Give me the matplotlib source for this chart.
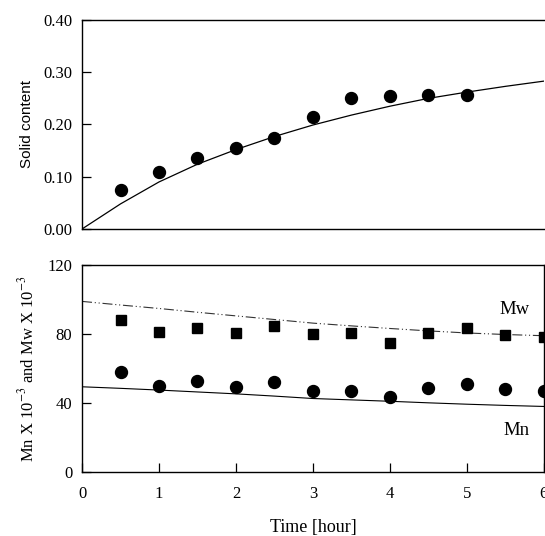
import matplotlib
matplotlib.use("Agg")
import matplotlib.pyplot as plt

# top panel: solid content vs time
t_pts = [0.5, 1.0, 1.5, 2.0, 2.5, 3.0, 3.5, 4.0, 4.5, 5.0]
solid_pts = [0.075, 0.109, 0.135, 0.155, 0.174, 0.215, 0.251, 0.255, 0.257, 0.256]

t_line = [0, 0.5, 1.0, 1.5, 2.0, 2.5, 3.0, 3.5, 4.0, 4.5, 5.0, 5.5, 6.0]
solid_line = [0, 0.048, 0.090, 0.124, 0.152, 0.177, 0.199, 0.218, 0.235, 0.250, 0.262, 0.273, 0.283]

# bottom panel: Mn, Mw (x 10^-3)
t_mol = [0.5, 1.0, 1.5, 2.0, 2.5, 3.0, 3.5, 4.0, 4.5, 5.0, 5.5, 6.0]
mw_pts = [88.3, 80.9, 83.5, 80.4, 84.4, 80.0, 80.6, 75.0, 80.6, 83.5, 79.2, 78.4]
mn_pts = [58.1, 49.8, 52.9, 49.1, 52.3, 47.1, 47.1, 43.6, 48.9, 51.0, 48.3, 47.1]

mw_line = [98.9, 96.8, 94.8, 92.6, 90.5, 88.4, 86.3, 84.7, 83.2, 81.8, 80.6, 79.7, 79.0]
mn_line = [49.4, 48.5, 47.5, 46.4, 45.3, 44.0, 42.6, 41.8, 41.0, 40.1, 39.3, 38.6, 38.0]

top_yticks = [0.0, 0.1, 0.2, 0.3, 0.4]
top_ylabels = ["0.00", "0.10", "0.20", "0.30", "0.40"]
bot_yticks = [0, 40, 80, 120]
xticks = [0, 1, 2, 3, 4, 5, 6]

SERIF = "Liberation Serif"
plt.rcParams["font.family"] = SERIF
plt.rcParams["mathtext.fontset"] = "stix"


def style_axis(ax):
    for sp in ax.spines.values():
        sp.set_linewidth(1.0)
    ax.tick_params(direction="in", length=6.5, width=0.9, labelsize=12)
    ax.tick_params(axis="y", pad=7)
    ax.tick_params(axis="x", pad=10)


def main():
    fig = plt.figure(figsize=(5.45, 5.36), dpi=100)
    ax1 = fig.add_axes([0.1505, 0.5728, 0.8475, 0.3899])
    ax2 = fig.add_axes([0.1505, 0.1194, 0.8475, 0.3862])

    # top
    ax1.plot(t_line, solid_line, color="black", lw=0.9)
    ax1.plot(t_pts, solid_pts, "o", color="black", ms=8.6)
    ax1.set_xlim(0, 6)
    ax1.set_ylim(0, 0.4)
    ax1.set_yticks(top_yticks)
    ax1.set_yticklabels(top_ylabels)
    ax1.set_xticks([])
    ax1.spines.right.set_visible(False)
    style_axis(ax1)
    ax1.set_ylabel("Solid content", family="Liberation Sans", fontsize=11)
    ax1.yaxis.set_label_coords(-0.105, 0.5)

    # bottom
    ax2.plot(t_line, mw_line, color="#333333", lw=0.8,
             dashes=(9, 2.5, 1, 2.5, 1, 2.5))
    ax2.plot(t_line, mn_line, color="black", lw=0.8)
    ax2.plot(t_mol, mw_pts, "s", color="black", ms=7.2)
    ax2.plot(t_mol, mn_pts, "o", color="black", ms=8.6)
    ax2.set_xlim(0, 6)
    ax2.set_ylim(0, 120)
    ax2.set_yticks(bot_yticks)
    ax2.set_xticks(xticks)
    style_axis(ax2)
    ax2.text(5.62, 94.1, "Mw", fontsize=13.5, ha="center", va="center")
    ax2.text(5.64, 23.9, "Mn", fontsize=13.5, ha="center", va="center")
    ax2.set_ylabel(r"Mn X 10$^{-3}$ and Mw X 10$^{-3}$", fontsize=12)
    ax2.yaxis.set_label_coords(-0.097, 0.5)
    ax2.set_xlabel("Time [hour]", fontsize=13)
    ax2.xaxis.set_label_coords(0.5, -0.228)

    fig.savefig("out.png", dpi=100)


if __name__ == "__main__":
    main()
